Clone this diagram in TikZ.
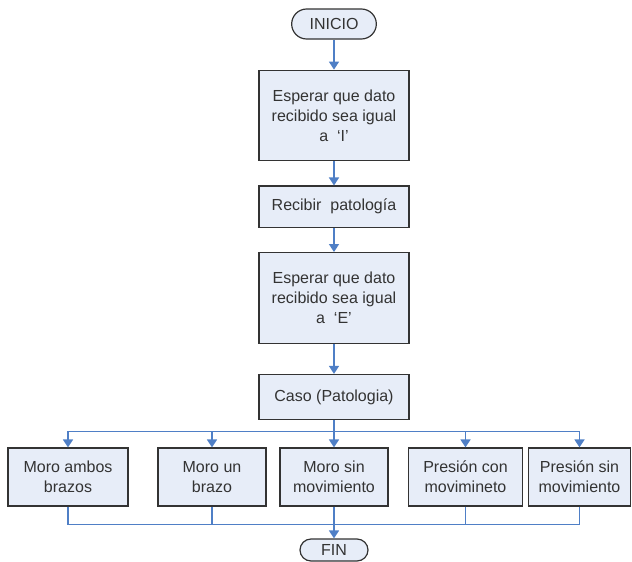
\documentclass[tikz,border=0pt]{standalone}
\usepackage{fontspec}
\setmainfont{Liberation Sans}
\usetikzlibrary{positioning, shapes.misc, arrows.meta}

\definecolor{boxfill}{HTML}{E7EDF8}
\definecolor{boxline}{HTML}{333333}
\definecolor{flow}{HTML}{4F7FC6}
\definecolor{txt}{HTML}{333333}

\begin{document}
\begin{tikzpicture}[
    x=0.75pt, y=-0.75pt,
    box/.style={draw=boxline, fill=boxfill, line width=0.9pt, align=center, text=txt,
        minimum width=112.5pt, font=\fontsize{12}{15}\selectfont, inner sep=2pt},
    term/.style={box, rounded rectangle, minimum width=67.5pt, minimum height=22.5pt},
    leaf/.style={box, minimum height=43.5pt},
    line/.style={draw=flow, line width=1.2pt},
    arrow/.style={line, -{Triangle[width=7.5pt,length=6pt]}},
]
\useasboundingbox (0,0) rectangle (632,561);

% Main column
\node[term] (inicio) at (334,24) {INICIO};
\node[box, below=22.5pt of inicio, minimum height=68pt] (espI)
    {Esperar que dato\\recibido sea igual\\a~~‘I’};
\node[box, below=18pt of espI, minimum height=31pt] (recibir) {Recibir~~patología};
\node[box, below=18pt of recibir, minimum height=68pt] (espE)
    {Esperar que dato\\recibido sea igual\\a~~‘E’};
\node[box, below=22.5pt of espE, minimum height=34pt] (caso) {Caso (Patologia)};

\draw[arrow] (inicio.south) -- (espI.north);
\draw[arrow] (espI.south) -- (recibir.north);
\draw[arrow] (recibir.south) -- (espE.north);
\draw[arrow] (espE.south) -- (caso.north);

% Cases
\node[leaf, minimum width=90pt] (ambos) at (68,477) {Moro ambos\\brazos};
\node[leaf, minimum width=81pt] (unbrazo) at (212,477) {Moro un\\brazo};
\node[leaf, minimum width=81pt] (sinmov) at (334,477) {Moro sin\\movimiento};
\node[leaf, minimum width=85pt] (prescon) at (465.5,477) {Presión con\\movimineto};
\node[leaf, minimum width=77pt] (pressin) at (579.5,477) {Presión sin\\movimiento};

\coordinate (split) at ([yshift=-8.25pt]caso.south);
\draw[line] (caso.south) -- (split);
\foreach \c in {ambos, unbrazo, sinmov, prescon, pressin}
    \draw[arrow] (split) -| (\c.north);

% End
\node[term, minimum width=55pt, minimum height=16.5pt] (fin) at (334,550) {FIN};
\coordinate (join) at ([yshift=-13.5pt]sinmov.south);
\foreach \c in {ambos, unbrazo, sinmov, prescon, pressin}
    \draw[line] (\c.south) |- (join);
\draw[arrow] (join) -- (fin.north);

\end{tikzpicture}
\end{document}
